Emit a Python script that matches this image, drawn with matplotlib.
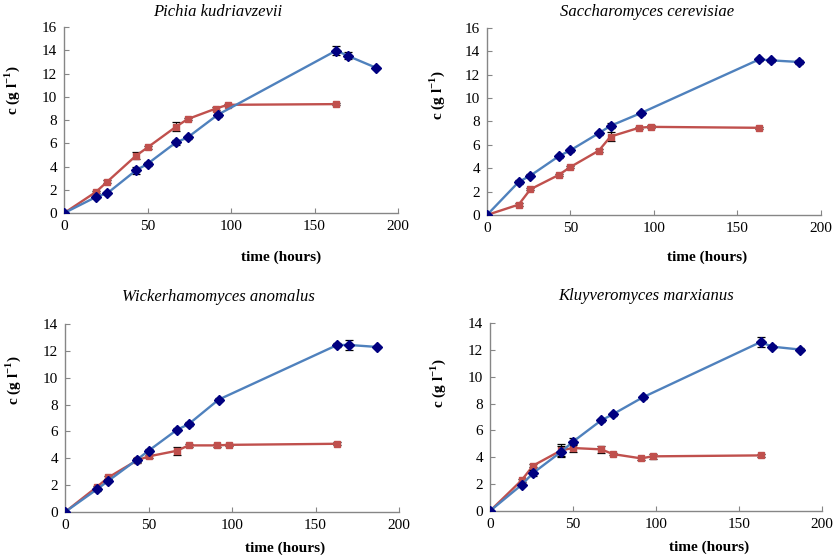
import matplotlib
matplotlib.use("Agg")
import matplotlib.pyplot as plt

plt.rcParams["font.family"] = ["Liberation Serif", "DejaVu Serif"]
plt.rcParams["mathtext.fontset"] = "custom"
plt.rcParams["mathtext.rm"] = "Liberation Serif"
plt.rcParams["mathtext.bf"] = "Liberation Serif:bold"

# Sampling times (hours)
t_ethanol = [0, 19, 26, 43, 50, 67, 74, 92, 163, 170, 187]
t_other = [0, 19, 26, 43, 50, 67, 74, 91, 98, 163]

titles = ["Pichia kudriavzevii", "Saccharomyces cerevisiae",
          "Wickerhamomyces anomalus", "Kluyveromyces marxianus"]

# Blue series (diamonds)
blue_pk = [0, 1.38, 1.72, 3.67, 4.24, 6.08, 6.51, 8.46, 13.99, 13.53, 12.50]
blue_pk_err = [0, 0.12, 0.1, 0.3, 0.15, 0.2, 0.15, 0.15, 0.4, 0.3, 0.1]
blue_sc = [0, 2.83, 3.37, 5.03, 5.54, 7.00, 7.63, 8.71, 13.31, 13.23, 13.09]
blue_sc_err = [0, 0.15, 0.12, 0.12, 0.12, 0.12, 0.2, 0.12, 0.12, 0.12, 0.15]
blue_wa = [0, 1.68, 2.33, 3.89, 4.56, 6.12, 6.54, 8.37, 12.44, 12.44, 12.29]
blue_wa_err = [0, 0.1, 0.12, 0.15, 0.12, 0.12, 0.15, 0.12, 0.15, 0.35, 0.1]
blue_km = [0, 1.94, 2.83, 4.42, 5.16, 6.75, 7.20, 8.46, 12.58, 12.24, 12.02]
blue_km_err = [0, 0.1, 0.25, 0.4, 0.25, 0.12, 0.12, 0.12, 0.35, 0.1, 0.1]

# Red series (squares)
red_pk = [0, 1.81, 2.72, 4.93, 5.65, 7.43, 8.09, 9.00, 9.32, 9.38]
red_pk_err = [0, 0.1, 0.1, 0.3, 0.1, 0.4, 0.1, 0.1, 0.1, 0.1]
red_sc = [0, 0.89, 2.20, 3.43, 4.11, 5.51, 6.71, 7.46, 7.54, 7.46]
red_sc_err = [0, 0.15, 0.1, 0.12, 0.12, 0.12, 0.4, 0.1, 0.12, 0.1]
red_wa = [0, 1.86, 2.58, 3.84, 4.14, 4.56, 4.96, 4.96, 5.00, 5.08]
red_wa_err = [0, 0.1, 0.1, 0.2, 0.12, 0.3, 0.1, 0.1, 0.1, 0.1]
red_km = [0, 2.28, 3.38, 4.52, 4.69, 4.59, 4.24, 3.92, 4.07, 4.14]
red_km_err = [0, 0.1, 0.1, 0.45, 0.3, 0.25, 0.1, 0.1, 0.2, 0.1]

blue_sets = [(blue_pk, blue_pk_err), (blue_sc, blue_sc_err),
             (blue_wa, blue_wa_err), (blue_km, blue_km_err)]
red_sets = [(red_pk, red_pk_err), (red_sc, red_sc_err),
            (red_wa, red_wa_err), (red_km, red_km_err)]
y_max = [16, 16, 14, 14]

# Axes boxes in figure fractions [left, bottom, width, height]
boxes = [
    [0.0766, 0.616, 0.3995, 0.335],
    [0.5825, 0.6126, 0.3995, 0.337],
    [0.0778, 0.0775, 0.3995, 0.3387],
    [0.5861, 0.0793, 0.3971, 0.3387],
]
xlabel_pos = [(0.65, -0.20), (0.66, -0.19), (0.66, -0.155), (0.66, -0.155)]
ylabel_pos = [(-0.125, 0.66), (-0.12, 0.64), (-0.125, 0.70), (-0.125, 0.68)]
title_pos = [(0.46, 1.04), (0.48, 1.04), (0.46, 1.10), (0.47, 1.10)]

fig = plt.figure(figsize=(8.36, 5.55), dpi=100)

for i in range(4):
    ax = fig.add_axes(boxes[i])
    b, be = blue_sets[i]
    r, re_ = red_sets[i]
    ax.errorbar(t_ethanol, b, yerr=be, color="#4F81BD", lw=1.7,
                marker="D", markersize=5.5, markerfacecolor="#000080",
                markeredgecolor="#000080", ecolor="black", elinewidth=0.9,
                capsize=3, capthick=0.9, zorder=3)
    ax.errorbar(t_other, r, yerr=re_, color="#C0504D", lw=1.7,
                marker="s", markersize=4.5, markerfacecolor="#C0504D",
                markeredgecolor="#C0504D", ecolor="black", elinewidth=0.9,
                capsize=3, capthick=0.9, zorder=2)
    ax.set_xlim(0, 200)
    ax.set_ylim(0, y_max[i])
    ax.set_xticks([0, 50, 100, 150, 200])
    ax.set_yticks(range(0, y_max[i] + 1, 2))
    for s in ("top", "right"):
        ax.spines[s].set_visible(False)
    for s in ("left", "bottom"):
        ax.spines[s].set_color("#868686")
        ax.spines[s].set_linewidth(1.0)
    ax.tick_params(direction="in", length=3.5, color="#868686",
                   labelsize=11, pad=5)
    ax.set_xlabel("time (hours)", fontsize=11, fontweight="bold")
    ax.xaxis.set_label_coords(*xlabel_pos[i])
    ax.set_ylabel(r"c (g l$^{\mathbf{-1}}$)", fontsize=11, fontweight="bold")
    ax.yaxis.set_label_coords(*ylabel_pos[i])
    ax.text(title_pos[i][0], title_pos[i][1], titles[i], transform=ax.transAxes,
            ha="center", va="bottom", fontsize=12, style="italic")

fig.savefig("out.png", dpi=100)
